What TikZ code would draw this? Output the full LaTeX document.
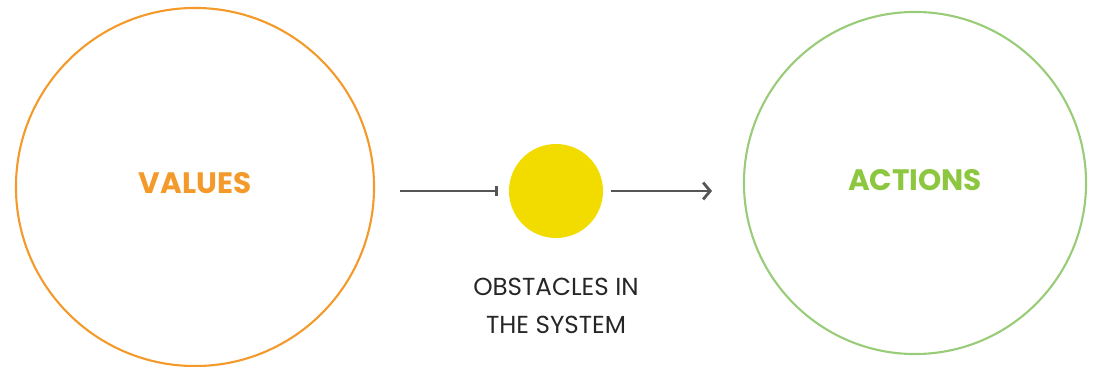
\documentclass[tikz,border=0pt]{standalone}
\usepackage{fontspec}
\setmainfont{Poppins}
\usetikzlibrary{positioning, arrows.meta}
\definecolor{valorange}{HTML}{F39A2B}
\definecolor{actgreen}{HTML}{8DC63F}
\definecolor{actring}{HTML}{98CC78}
\definecolor{obsyellow}{HTML}{F2DC00}
\definecolor{arrgrey}{HTML}{555555}
\begin{document}
\begin{tikzpicture}[x=0.025cm, y=-0.025cm,
		ring/.style={draw, circle, line width=1.5pt, inner sep=0pt},
		label/.style={font=\fontsize{21}{24}\selectfont\bfseries, inner sep=0pt},
		arrow/.style={draw=arrgrey, line width=2pt},
		]
		\useasboundingbox (0,0) rectangle (1097,367);
		
		%% circles
		\node[ring, draw=valorange, minimum size=8.95cm] (values) at (195,187) {};
		\node[ring, draw=actring, minimum size=8.55cm] (actions) at (915,183) {};
		\node[circle, fill=obsyellow, minimum size=2.35cm, inner sep=0pt] (obs) at (556,191) {};
		
		%% labels
		\node[label, text=valorange] at ([yshift=0.1cm]values.center) {VALUES};
		\node[label, text=actgreen] at ([yshift=0.08cm]actions.center) {ACTIONS};
		\node[align=center, font=\fontsize{17.5}{27}\selectfont, text=black!85, below=0.87cm of obs] (obstxt) {OBSTACLES IN\\THE SYSTEM};
		
		%% arrows
		\coordinate (lstart) at (400,191);
		\coordinate (rend) at (712,191);
		\draw[arrow, -{Bar[width=7pt]}] (lstart) -- ([xshift=-0.28cm]obs.west);
		\draw[arrow, -{Straight Barb[length=5pt, width=12pt]}] ([xshift=0.2cm]obs.east) -- (rend);
		
	\end{tikzpicture}
\end{document}
